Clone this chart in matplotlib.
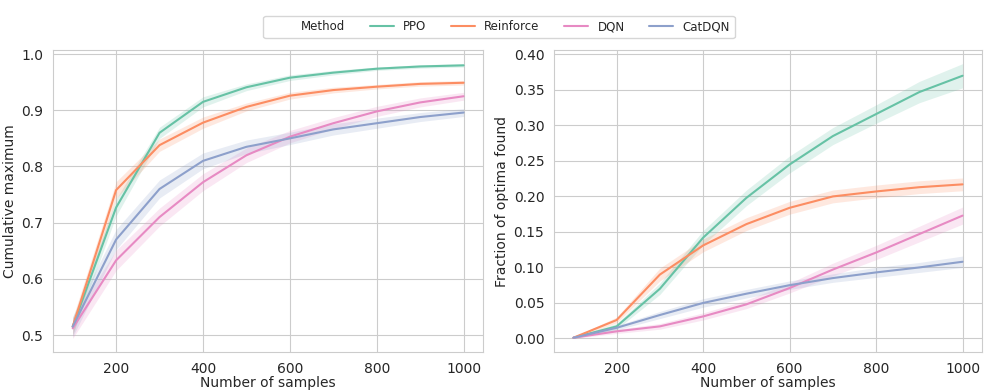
import numpy as np
import matplotlib
matplotlib.use("Agg")
import matplotlib.pyplot as plt
import seaborn as sns
from matplotlib.lines import Line2D

# ================= DATA ================= #
samples = [100, 200, 300, 400, 500, 600, 700, 800, 900, 1000]
methods = ["PPO", "Reinforce", "DQN", "CatDQN"]

cummax_ppo       = [0.515, 0.727, 0.860, 0.915, 0.941, 0.958, 0.967, 0.974, 0.978, 0.980]
cummax_reinforce = [0.515, 0.758, 0.838, 0.878, 0.906, 0.926, 0.936, 0.942, 0.947, 0.949]
cummax_dqn       = [0.512, 0.633, 0.710, 0.772, 0.820, 0.853, 0.877, 0.898, 0.914, 0.925]
cummax_catdqn    = [0.515, 0.670, 0.760, 0.810, 0.835, 0.850, 0.866, 0.877, 0.888, 0.896]

cummax_err_ppo       = [0.015, 0.015, 0.010, 0.009, 0.006, 0.005, 0.004, 0.003, 0.003, 0.003]
cummax_err_reinforce = [0.015, 0.015, 0.011, 0.010, 0.007, 0.006, 0.005, 0.004, 0.004, 0.004]
cummax_err_dqn       = [0.018, 0.018, 0.016, 0.015, 0.013, 0.011, 0.010, 0.009, 0.008, 0.007]
cummax_err_catdqn    = [0.018, 0.018, 0.016, 0.014, 0.012, 0.011, 0.010, 0.009, 0.008, 0.007]

frac_ppo       = [0.001, 0.017, 0.070, 0.142, 0.198, 0.245, 0.285, 0.316, 0.347, 0.370]
frac_reinforce = [0.001, 0.026, 0.090, 0.131, 0.161, 0.184, 0.200, 0.207, 0.213, 0.217]
frac_dqn       = [0.001, 0.010, 0.017, 0.031, 0.048, 0.071, 0.097, 0.121, 0.147, 0.173]
frac_catdqn    = [0.001, 0.015, 0.033, 0.050, 0.063, 0.075, 0.085, 0.093, 0.100, 0.108]

frac_err_ppo       = [0.001, 0.004, 0.008, 0.010, 0.011, 0.012, 0.012, 0.013, 0.015, 0.017]
frac_err_reinforce = [0.001, 0.004, 0.009, 0.009, 0.009, 0.009, 0.009, 0.009, 0.009, 0.009]
frac_err_dqn       = [0.001, 0.003, 0.004, 0.005, 0.006, 0.007, 0.009, 0.010, 0.011, 0.012]
frac_err_catdqn    = [0.001, 0.003, 0.005, 0.006, 0.006, 0.006, 0.006, 0.007, 0.007, 0.008]

# ================= STYLE ================= #
sns.set_style("whitegrid")
plt.rcParams["font.family"] = ["DejaVu Sans"]
plt.rcParams["font.size"] = 10
set2 = sns.color_palette("Set2", 4)
colors = [set2[0], set2[1], set2[3], set2[2]]  # PPO, Reinforce, DQN (pink), CatDQN (blue)

fig = plt.figure(figsize=(9.84, 3.9), dpi=100)
ax1 = fig.add_axes([0.054, 0.097, 0.437, 0.775])
ax2 = fig.add_axes([0.563, 0.097, 0.435, 0.775])

left_data = [
    (cummax_ppo, cummax_err_ppo),
    (cummax_reinforce, cummax_err_reinforce),
    (cummax_dqn, cummax_err_dqn),
    (cummax_catdqn, cummax_err_catdqn),
]
right_data = [
    (frac_ppo, frac_err_ppo),
    (frac_reinforce, frac_err_reinforce),
    (frac_dqn, frac_err_dqn),
    (frac_catdqn, frac_err_catdqn),
]

x = np.array(samples)
for ax, data in [(ax1, left_data), (ax2, right_data)]:
    for (mean, err), c in zip(data, colors):
        mean = np.array(mean)
        err = np.array(err)
        ax.fill_between(x, mean - err, mean + err, color=c, alpha=0.2, linewidth=0)
        ax.plot(x, mean, color=c, linewidth=1.5)
    ax.set_xlabel("Number of samples", labelpad=0)
    ax.set_xticks([200, 400, 600, 800, 1000])
    ax.tick_params(labelsize=10, labelcolor="#262626")

ax1.set_ylabel("Cumulative maximum", labelpad=3)
ax2.set_ylabel("Fraction of optima found", labelpad=3)
ax2.set_yticks(np.arange(0, 0.41, 0.05))
ax2.set_yticklabels([f"{v:.2f}" for v in np.arange(0, 0.41, 0.05)])

# ================= LEGEND ================= #
handles = [Line2D([], [], linestyle="none")]
handles += [Line2D([], [], color=c, linewidth=1.5) for c in colors]
labels = ["Method"] + methods
fig.legend(handles, labels, loc="upper center", bbox_to_anchor=(0.507, 0.975),
           ncol=5, frameon=True, fontsize=8.5, handlelength=2.0, columnspacing=2.1)

fig.savefig("out.png", dpi=100)
